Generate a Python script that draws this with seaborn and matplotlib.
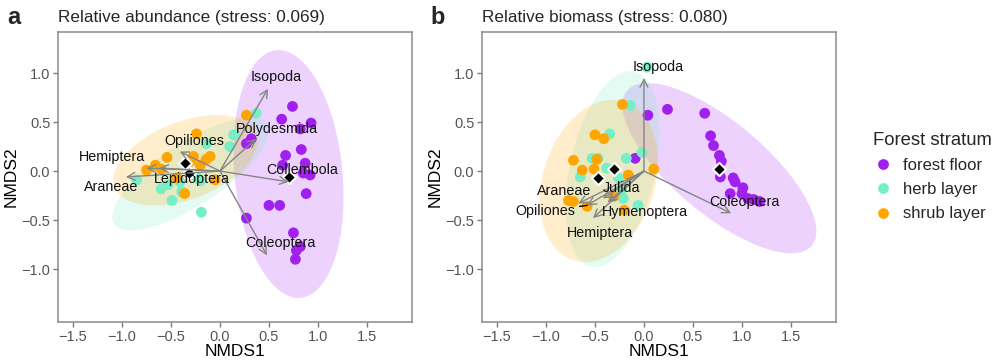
import numpy as np
import pandas as pd
import matplotlib
matplotlib.use("Agg")
import matplotlib.pyplot as plt
from matplotlib.patches import Ellipse
import seaborn as sns

strata = ["forest floor", "herb layer", "shrub layer"]
palette = {"forest floor": "#A020F0", "herb layer": "#76EEC6", "shrub layer": "#FFA500"}
x_ticks = [-1.5, -1.0, -0.5, 0.0, 0.5, 1.0, 1.5]
y_ticks = [-1.0, -0.5, 0.0, 0.5, 1.0]

# ---- panel a: relative abundance ----
a_floor_x = [0.74, 0.63, 0.93, 0.82, 0.32, 0.27, 0.83, 0.67, 0.87, 0.64, 0.92, 0.88, 0.50, 0.61, 0.27, 0.75, 0.82, 0.78, 0.77, 0.85]
a_floor_y = [0.66, 0.53, 0.49, 0.43, 0.33, 0.28, 0.22, 0.16, 0.08, 0.06, -0.04, -0.23, -0.35, -0.35, -0.48, -0.63, -0.77, -0.81, -0.90, -0.02]
a_herb_x = [0.37, 0.14, 0.10, -0.14, -0.85, -0.60, -0.53, -0.49, -0.19, -0.41, -0.24, -0.39, -0.20]
a_herb_y = [0.59, 0.37, 0.25, 0.28, -0.09, -0.18, -0.14, -0.30, -0.42, -0.11, -0.06, -0.21, -0.10]
a_shrub_x = [0.27, -0.24, -0.54, -0.27, -0.14, -0.66, -0.75, -0.60, -0.20, -0.05, -0.36, -0.44, -0.30, -0.10]
a_shrub_y = [0.57, 0.38, 0.14, 0.15, 0.12, 0.06, 0.01, 0.02, 0.06, -0.09, -0.23, -0.07, 0.10, 0.15]
a_cent_x = [0.70, -0.32, -0.36]
a_cent_y = [-0.06, -0.02, 0.08]
# ellipse: centre x, centre y, width, height, angle (deg)
a_ell_cx = [0.70, -0.30, -0.35]
a_ell_cy = [-0.03, -0.03, 0.11]
a_ell_w = [1.10, 1.86, 1.55]
a_ell_h = [2.54, 0.64, 0.79]
a_ell_ang = [5.6, 33, 21]
a_species = ["Isopoda", "Polydesmida", "Collembola", "Coleoptera", "Opiliones", "Hemiptera", "Araneae", "Lepidoptera"]
a_tip_x = [0.49, 0.37, 0.70, 0.48, -0.41, -0.75, -0.96, -0.62]
a_tip_y = [0.84, 0.33, -0.11, -0.86, 0.20, 0.03, -0.06, 0.03]
a_lab_x = [0.57, 0.58, 0.84, 0.62, -0.26, -1.10, -1.11, -0.29]
a_lab_y = [0.96, 0.43, 0.01, -0.73, 0.31, 0.14, -0.16, -0.08]
a_seg = [False] * 8

# ---- panel b: relative biomass ----
b_floor_x = [0.04, 0.24, 0.62, 0.68, 0.71, 0.77, 0.79, 0.78, 0.91, 0.93, 1.01, 0.88, 1.00, 1.06, 1.18, -0.09, 1.12]
b_floor_y = [0.57, 0.63, 0.59, 0.36, 0.26, 0.16, 0.10, -0.06, -0.07, -0.11, -0.17, -0.23, -0.23, -0.28, -0.31, 0.13, -0.29]
b_herb_x = [0.03, -0.14, -0.35, -0.53, -0.47, -0.18, -0.02, -0.65, -0.38, -0.26, -0.23, -0.21, -0.06]
b_herb_y = [1.06, 0.67, 0.38, 0.13, 0.13, 0.13, 0.19, -0.06, 0.03, -0.07, -0.19, -0.28, -0.35]
b_shrub_x = [-0.22, -0.50, -0.41, -0.72, -0.63, -0.51, -0.48, -0.16, 0.10, -0.77, -0.72, -0.58, -0.31, -0.20]
b_shrub_y = [0.68, 0.37, 0.33, 0.11, 0.01, 0.02, 0.12, -0.04, 0.02, -0.30, -0.31, -0.36, -0.26, -0.40]
b_cent_x = [0.77, -0.31, -0.47]
b_cent_y = [0.02, 0.02, -0.07]
b_ell_cx = [0.77, -0.32, -0.46]
b_ell_cy = [0.03, 0.02, -0.10]
b_ell_w = [2.46, 2.04, 1.70]
b_ell_h = [0.94, 0.87, 1.14]
b_ell_ang = [-40, 77.5, 72]
b_species = ["Isopoda", "Coleoptera", "Araneae", "Opiliones", "Julida", "Hymenoptera", "Hemiptera"]
b_tip_x = [0.00, 0.89, -0.67, -0.58, -0.42, -0.37, -0.52]
b_tip_y = [0.95, -0.43, -0.33, -0.35, -0.28, -0.32, -0.48]
b_lab_x = [0.15, 1.03, -0.81, -1.01, -0.23, 0.01, -0.45]
b_lab_y = [1.06, -0.32, -0.20, -0.41, -0.17, -0.42, -0.63]
b_seg = [False, False, False, True, False, False, False]


def points_frame(fx, fy, hx, hy, sx, sy):
    return pd.DataFrame({
        "NMDS1": fx + hx + sx,
        "NMDS2": fy + hy + sy,
        "Forest stratum": ["forest floor"] * len(fx) + ["herb layer"] * len(hx) + ["shrub layer"] * len(sx),
    })


def fmt(v):
    return f"{v:.1f}".replace("-", "\u2212")


def draw_panel(ax, df, ell, cent, arrows, legend):
    cx, cy, w, h, ang = ell
    for i, s in enumerate(strata):
        ax.add_patch(Ellipse((cx[i], cy[i]), w[i], h[i], angle=ang[i],
                             facecolor=palette[s], alpha=0.2, edgecolor="none", zorder=1))
    sns.scatterplot(data=df, x="NMDS1", y="NMDS2", hue="Forest stratum", hue_order=strata,
                    palette=palette, s=60, linewidth=0, alpha=1, ax=ax, legend=legend, zorder=2)
    ax.scatter(cent[0], cent[1], marker="D", s=45, color="black", edgecolor="white",
               linewidth=1.5, zorder=3)
    names, tx, ty, lx, ly, seg = arrows
    for i, n in enumerate(names):
        ax.annotate("", xy=(tx[i], ty[i]), xytext=(0, 0),
                    arrowprops=dict(arrowstyle="->,head_length=0.55,head_width=0.28",
                                    color="#858585", lw=1.0, shrinkA=0, shrinkB=0),
                    zorder=4)
    for i, n in enumerate(names):
        if seg[i]:
            ax.annotate(n, xy=(tx[i], ty[i]), xytext=(lx[i], ly[i]), ha="center", va="center",
                        fontsize=10.3, color="#111111", zorder=5,
                        arrowprops=dict(arrowstyle="-", color="black", lw=1.0, shrinkA=1, shrinkB=0))
        else:
            ax.text(lx[i], ly[i], n, ha="center", va="center", fontsize=10.3, color="#111111", zorder=5)
    ax.set_xlim(-1.653, 1.96)
    ax.set_ylim(-1.54, 1.42)
    ax.set_xticks(x_ticks)
    ax.set_xticklabels([fmt(v) for v in x_ticks])
    ax.set_yticks(y_ticks)
    ax.set_yticklabels([fmt(v) for v in y_ticks])
    ax.tick_params(bottom=True, left=True, direction="out", colors="#7a7a7a",
                   labelcolor="#555555", labelsize=10.5, length=3.5, width=1, pad=2)
    for sp in ax.spines.values():
        sp.set_color("#8a8a8a")
        sp.set_linewidth(1.1)
    ax.set_xlabel("NMDS1", fontsize=12.5, color="black", labelpad=0)
    ax.set_ylabel("NMDS2", fontsize=12.5, color="black", labelpad=2)
    ax.grid(False)


sns.set_style("white")
plt.rcParams["font.family"] = ["Liberation Sans", "DejaVu Sans"]

fig = plt.figure(figsize=(10, 3.63), dpi=100)
ax1 = fig.add_axes([0.058, 0.113, 0.354, 0.799])
ax2 = fig.add_axes([0.482, 0.113, 0.354, 0.799])

df_a = points_frame(a_floor_x, a_floor_y, a_herb_x, a_herb_y, a_shrub_x, a_shrub_y)
df_b = points_frame(b_floor_x, b_floor_y, b_herb_x, b_herb_y, b_shrub_x, b_shrub_y)

draw_panel(ax1, df_a, (a_ell_cx, a_ell_cy, a_ell_w, a_ell_h, a_ell_ang), (a_cent_x, a_cent_y),
           (a_species, a_tip_x, a_tip_y, a_lab_x, a_lab_y, a_seg), False)
draw_panel(ax2, df_b, (b_ell_cx, b_ell_cy, b_ell_w, b_ell_h, b_ell_ang), (b_cent_x, b_cent_y),
           (b_species, b_tip_x, b_tip_y, b_lab_x, b_lab_y, b_seg), True)

handles, labels = ax2.get_legend_handles_labels()
ax2.get_legend().remove()
leg = fig.legend(handles, labels, title="Forest stratum", loc="upper left",
                 bbox_to_anchor=(0.866, 0.655), frameon=False, fontsize=12,
                 title_fontsize=13.3, handlelength=1.2, handletextpad=0.6,
                 labelspacing=0.55, borderaxespad=0)
leg._legend_box.align = "left"

fig.text(0.007, 0.953, "a", fontsize=17, fontweight="bold", va="center")
fig.text(0.058, 0.953, "Relative abundance (stress: 0.069)", fontsize=12.3, va="center")
fig.text(0.430, 0.953, "b", fontsize=17, fontweight="bold", va="center")
fig.text(0.482, 0.953, "Relative biomass (stress: 0.080)", fontsize=12.3, va="center")

fig.savefig("out.png", dpi=100)
